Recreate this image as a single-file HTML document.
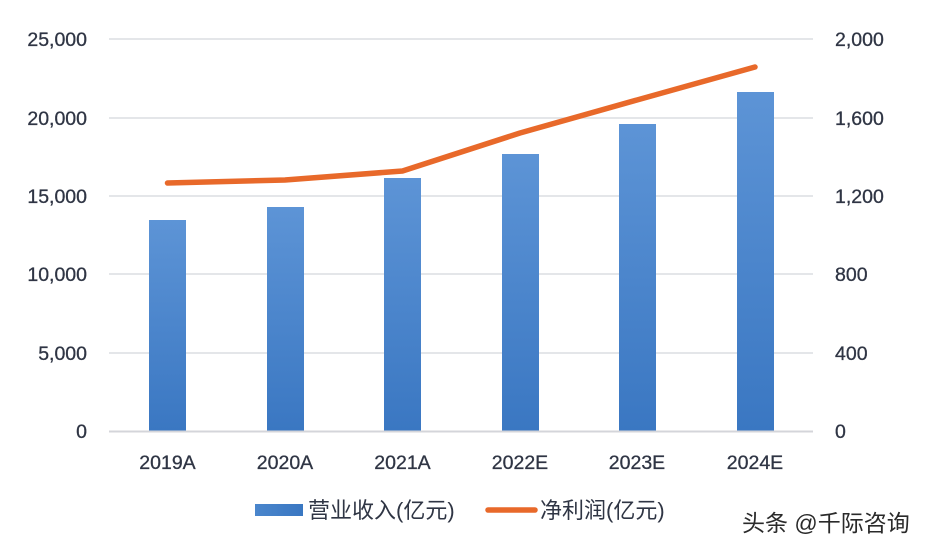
<!DOCTYPE html>
<html><head><meta charset="utf-8"><style>
html,body{margin:0;padding:0;background:#fff;}
svg{display:block;}
text{font-family:"Liberation Sans","Noto Sans CJK SC",sans-serif;fill:#2f3544;}
</style></head><body>
<svg width="928" height="550" viewBox="0 0 928 550" xmlns="http://www.w3.org/2000/svg">
<defs>
<linearGradient id="g" x1="0" y1="0" x2="0" y2="1">
<stop offset="0" stop-color="#5d94d6"/>
<stop offset="1" stop-color="#3a77c2"/>
</linearGradient>
<linearGradient id="gl" x1="0" y1="0" x2="1" y2="0">
<stop offset="0" stop-color="#4a86cc"/>
<stop offset="1" stop-color="#3a77c2"/>
</linearGradient>
</defs>
<g stroke="#dcdde2" stroke-width="1.5">
<line x1="109" y1="39" x2="813" y2="39"/>
<line x1="109" y1="118" x2="813" y2="118"/>
<line x1="109" y1="196" x2="813" y2="196"/>
<line x1="109" y1="274" x2="813" y2="274"/>
<line x1="109" y1="353" x2="813" y2="353"/>
</g>
<g fill="url(#g)">
<rect x="149" y="220" width="37" height="211"/>
<rect x="267" y="207" width="37" height="224"/>
<rect x="384" y="178" width="37" height="253"/>
<rect x="502" y="154" width="37" height="277"/>
<rect x="619" y="124" width="37" height="307"/>
<rect x="737" y="92" width="37" height="339"/>
</g>
<line x1="109" y1="431.5" x2="813" y2="431.5" stroke="#d4d5da" stroke-width="2"/>
<polyline points="167.5,183 285,180 402.5,171 520,133 637,100 755,67" fill="none" stroke="#e8692a" stroke-width="5.5" stroke-linecap="round" stroke-linejoin="round"/>
<g font-size="19.5" text-anchor="end" stroke="#2f3544" stroke-width="0.3">
<text x="87" y="46">25,000</text>
<text x="87" y="125">20,000</text>
<text x="87" y="203">15,000</text>
<text x="87" y="281">10,000</text>
<text x="87" y="360">5,000</text>
<text x="87" y="438">0</text>
</g>
<g font-size="19.5" text-anchor="start" stroke="#2f3544" stroke-width="0.3">
<text x="835" y="46">2,000</text>
<text x="835" y="125">1,600</text>
<text x="835" y="203">1,200</text>
<text x="835" y="281">800</text>
<text x="835" y="360">400</text>
<text x="835" y="438">0</text>
</g>
<g font-size="19.5" text-anchor="middle" stroke="#2f3544" stroke-width="0.3">
<text x="167.5" y="469">2019A</text>
<text x="285" y="469">2020A</text>
<text x="402.5" y="469">2021A</text>
<text x="520" y="469">2022E</text>
<text x="637" y="469">2023E</text>
<text x="755" y="469">2024E</text>
</g>
<rect x="255" y="504" width="48" height="12" fill="url(#gl)"/>
<text x="308" y="518" font-size="22">营业收入(亿元)</text>
<line x1="488" y1="510" x2="535" y2="510" stroke="#e8692a" stroke-width="5.5" stroke-linecap="round"/>
<text x="540" y="518" font-size="22">净利润(亿元)</text>
<text x="742" y="531" font-size="23" style="fill:#2a2a2a">头条 @千际咨询</text>
</svg>
</body></html>
